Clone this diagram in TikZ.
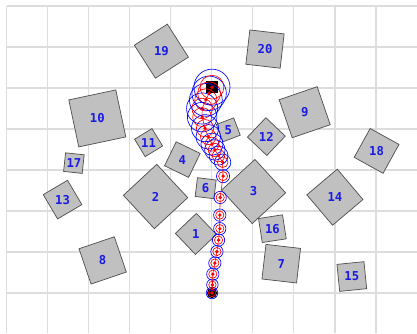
\documentclass[tikz,border=0pt]{standalone}
\usepackage{fontspec}
\setmonofont{DejaVu Sans Mono}
\usetikzlibrary{calc}
\definecolor{obstfill}{HTML}{C0C0C0}
\definecolor{obstline}{HTML}{505050}
\definecolor{gridline}{HTML}{DDDDDD}
\definecolor{lblblue}{HTML}{1A1AE6}

\begin{document}
\begin{tikzpicture}[
  obst/.style={rectangle, draw=obstline, line width=0.5pt, fill=obstfill, inner sep=0pt},
  lbl/.style={font=\fontsize{8.5}{9}\selectfont\ttfamily\bfseries, text=lblblue, inner sep=0pt},
  bel/.style={draw=blue, line width=0.45pt},
  cov/.style={draw=red, line width=0.45pt},
  x=1cm, y=1cm
]
\useasboundingbox (-5.17,-0.976) rectangle (5,7.146);

% Grid
\foreach \gx in {-5,...,4}
  \draw[gridline, line width=0.7pt] (\gx,-0.976) -- (\gx,7);
\foreach \gy in {0,...,7}
  \draw[gridline, line width=1pt] (-5,\gy) -- (5,\gy);

% Obstacles
\foreach \n/\ox/\oy/\os/\oa in {
  1/-0.392/1.441/0.707/43.6, 2/-1.376/2.354/1.11/42.9, 3/1.014/2.476/1.107/42.6,
  4/-0.722/3.254/0.65/-25.8, 5/0.398/3.979/0.452/20.9, 6/-0.154/2.556/0.46/-7,
  7/1.689/0.715/0.849/-6.6, 8/-2.666/0.795/0.909/18.8, 9/2.261/4.409/0.98/18.9,
  10/-2.797/4.258/1.172/12, 11/-1.546/3.668/0.497/31.4, 12/1.326/3.815/0.652/46.5,
  13/-3.644/2.278/0.688/30.5, 14/2.998/2.337/0.971/40.2, 15/3.41/0.402/0.662/5.7,
  16/1.473/1.569/0.592/8.8, 17/-3.368/3.168/0.456/-6.1, 18/4.015/3.466/0.804/-28.9,
  19/-1.234/5.898/0.954/32.5, 20/1.293/5.949/0.842/-6.6}{
  \node[obst, minimum size=\os cm, rotate=\oa] (o\n) at (\ox,\oy) {};
  \node[lbl] (l\n) at (o\n.center) {\n};
}

% Start and goal
\node[circle, fill=black, minimum size=0.25cm, inner sep=0pt] (start) at (0,0) {};
\node[rectangle, fill=black, minimum size=0.3cm, inner sep=0pt] (goal) at (0,5.02) {};

% Estimated path with uncertainty
\foreach \k/\px/\py/\rr/\rb in {
  1/0/0/0.09/0.14, 2/0.01/0.20/0.09/0.14, 3/0.02/0.46/0.1/0.15,
  4/0.07/0.73/0.1/0.15, 5/0.12/1.01/0.1/0.15, 6/0.16/1.29/0.1/0.15,
  7/0.19/1.57/0.1/0.15, 8/0.19/1.90/0.1/0.15, 9/0.20/2.33/0.1/0.15,
  10/0.27/2.85/0.11/0.16, 11/0.26/3.19/0.13/0.2, 12/0.16/3.35/0.15/0.23,
  13/0.07/3.49/0.16/0.25, 14/0.0/3.63/0.17/0.27, 15/-0.09/3.81/0.19/0.3,
  16/-0.17/4.02/0.21/0.33, 17/-0.24/4.29/0.23/0.36, 18/-0.24/4.50/0.25/0.38,
  19/-0.15/4.71/0.27/0.4, 20/-0.07/4.87/0.28/0.42, 21/0.0/5.02/0.29/0.44}{
  \coordinate (p\k) at (\px,\py);
  \draw[bel] (p\k) circle (\rb);
  \draw[cov] (p\k) circle (\rr);
  \fill[red] (p\k) circle (0.045);
}
\draw[red, line width=0.4pt] (p1) \foreach \k in {2,...,21}{ -- (p\k)};
\end{tikzpicture}
\end{document}
